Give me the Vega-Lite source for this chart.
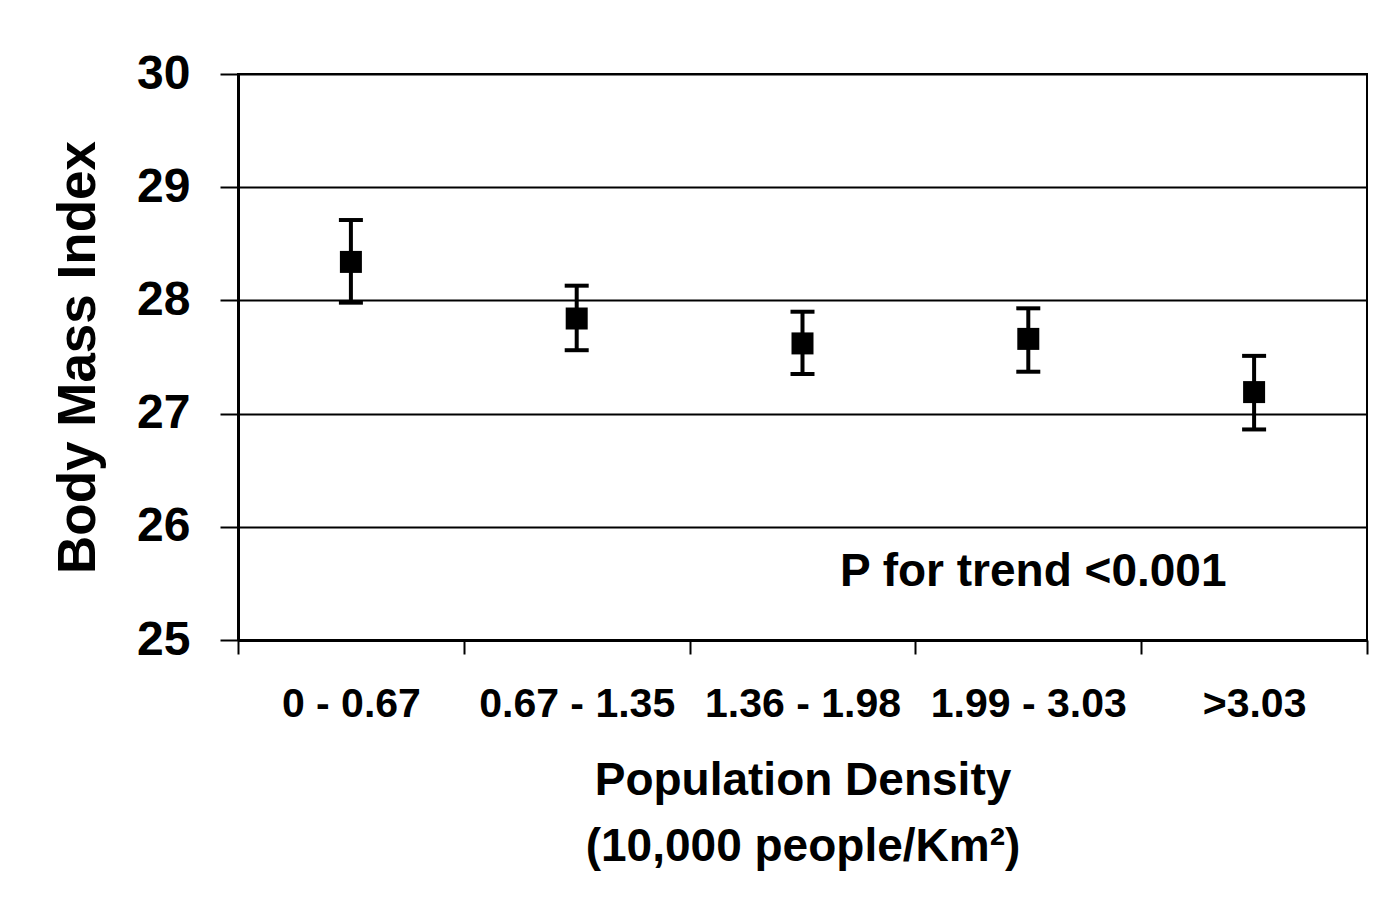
{
  "$schema": "https://vega.github.io/schema/vega-lite/v6.json",
  "width": 1129,
  "height": 566,
  "autosize": {"type": "none"},
  "padding": {"left": 238, "top": 74, "right": 10, "bottom": 276},
  "background": "white",
  "config": {
    "view": {"stroke": "black", "strokeWidth": 2},
    "font": "Liberation Sans",
    "axisY": {
      "titleFont": "Liberation Sans", "titleFontSize": 53, "titleFontWeight": "bold", "titleColor": "black",
      "titlePadding": 31,
      "labelFont": "Liberation Sans", "labelFontSize": 48, "labelFontWeight": "bold", "labelColor": "black",
      "labelPadding": 30,
      "tickSize": 18, "tickColor": "black", "tickWidth": 2,
      "domainColor": "black", "domainWidth": 3,
      "grid": true, "gridColor": "black", "gridWidth": 2, "gridOpacity": 1
    },
    "axisX": {
      "titleFont": "Liberation Sans", "titleFontSize": 46, "titleFontWeight": "bold", "titleColor": "black",
      "titleLineHeight": 66, "titlePadding": 34,
      "labelFont": "Liberation Sans", "labelFontSize": 41, "labelFontWeight": "bold", "labelColor": "black",
      "labelPadding": 30, "labelAngle": 0, "labelLimit": 400, "labelOverlap": false, "labelBound": false,
      "tickBand": "extent", "tickSize": 14, "tickColor": "black", "tickWidth": 2,
      "domainColor": "black", "domainWidth": 3, "grid": false
    }
  },
  "datasets": {
    "bmi": [
      {"density": "0 - 0.67", "mean": 28.34, "lo": 27.98, "hi": 28.71},
      {"density": "0.67 - 1.35", "mean": 27.84, "lo": 27.56, "hi": 28.13},
      {"density": "1.36 - 1.98", "mean": 27.62, "lo": 27.35, "hi": 27.90},
      {"density": "1.99 - 3.03", "mean": 27.66, "lo": 27.37, "hi": 27.93},
      {"density": ">3.03", "mean": 27.19, "lo": 26.86, "hi": 27.51}
    ],
    "note": [
      {"density": "1.99 - 3.03", "bmi": 25.48, "label": "P for trend <0.001"}
    ]
  },
  "encoding": {
    "x": {
      "field": "density", "type": "nominal", "sort": null,
      "scale": {"paddingInner": 0, "paddingOuter": 0},
      "axis": {"title": ["Population Density", "(10,000 people/Km²)"]}
    }
  },
  "layer": [
    {
      "data": {"name": "bmi"},
      "mark": {"type": "point", "shape": "square", "filled": true, "size": 484, "color": "black", "opacity": 1},
      "encoding": {
        "y": {
          "field": "mean", "type": "quantitative", "title": "Body Mass Index",
          "scale": {"domain": [25, 30], "zero": false, "nice": false},
          "axis": {"values": [25, 26, 27, 28, 29, 30]}
        }
      }
    },
    {
      "data": {"name": "bmi"},
      "mark": {"type": "rule", "color": "black", "strokeWidth": 4},
      "encoding": {
        "y": {"field": "lo", "type": "quantitative", "title": "Body Mass Index", "axis": {"values": [25, 26, 27, 28, 29, 30]}},
        "y2": {"field": "hi"}
      }
    },
    {
      "data": {"name": "bmi"},
      "mark": {"type": "tick", "color": "black", "size": 24, "thickness": 4, "opacity": 1},
      "encoding": {
        "y": {"field": "lo", "type": "quantitative", "title": "Body Mass Index", "axis": {"values": [25, 26, 27, 28, 29, 30]}}
      }
    },
    {
      "data": {"name": "bmi"},
      "mark": {"type": "tick", "color": "black", "size": 24, "thickness": 4, "opacity": 1},
      "encoding": {
        "y": {"field": "hi", "type": "quantitative", "title": "Body Mass Index", "axis": {"values": [25, 26, 27, 28, 29, 30]}}
      }
    },
    {
      "data": {"name": "note"},
      "mark": {"type": "text", "font": "Liberation Sans", "fontSize": 46, "fontWeight": "bold", "color": "black", "align": "center", "baseline": "alphabetic", "dx": 5},
      "encoding": {
        "y": {"field": "bmi", "type": "quantitative", "title": "Body Mass Index", "axis": {"values": [25, 26, 27, 28, 29, 30]}},
        "text": {"field": "label"}
      }
    }
  ]
}
